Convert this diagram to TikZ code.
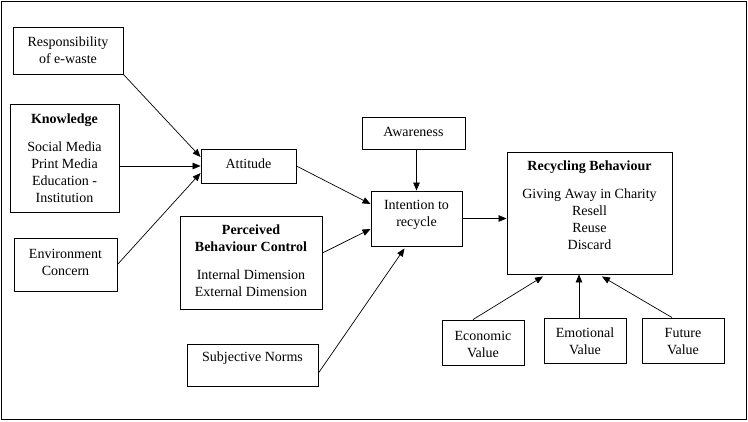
\documentclass[tikz,border=0pt]{standalone}
\usepackage{fontspec}
\setmainfont{Liberation Serif}
\usetikzlibrary{arrows.meta}
\begin{document}
\begin{tikzpicture}[x=1pt,y=-1pt,
  box/.style={draw, line width=0.9pt, rectangle, inner sep=0pt},
  txt/.style={align=center, inner sep=0pt, font=\fontsize{14}{17}\selectfont},
  arr/.style={draw, line width=0.7pt, -{Triangle[length=8pt,width=6.5pt]}}]
\useasboundingbox (0,0) rectangle (748,421);
\draw[line width=1pt] (1,1) rectangle (746,419);
% boxes
\node[box, minimum width=110pt, minimum height=47pt] (resp) at (68,50.5) {};
\node[box, minimum width=109pt, minimum height=108pt] (know) at (64.5,158) {};
\node[box, minimum width=95pt, minimum height=34pt] (att) at (248.5,166) {};
\node[box, minimum width=103pt, minimum height=53pt] (env) at (65.5,264.5) {};
\node[box, minimum width=142pt, minimum height=93pt] (pbc) at (251,262.5) {};
\node[box, minimum width=131pt, minimum height=42pt] (subj) at (252.5,365) {};
\node[box, minimum width=103pt, minimum height=32pt] (aware) at (413.5,133) {};
\node[box, minimum width=91pt, minimum height=55pt] (intent) at (416.5,218.5) {};
\node[box, minimum width=165pt, minimum height=122pt] (rb) at (589.5,213) {};
\node[box, minimum width=82pt, minimum height=45pt] (econ) at (483,342.5) {};
\node[box, minimum width=82pt, minimum height=45pt] (emo) at (585,340.5) {};
\node[box, minimum width=82pt, minimum height=45pt] (fut) at (683,340.5) {};
% texts
\node[txt] (respt) at (68,50) {Responsibility\\of e-waste};
\node[txt] (knowt) at (64.5,158) {\textbf{Knowledge}\\[11pt]Social Media\\Print Media\\Education -\\Institution};
\node[txt] (attt) at (248.5,164) {Attitude};
\node[txt] (envt) at (65.5,262) {Environment\\Concern};
\node[txt] (pbct) at (251,261) {\textbf{Perceived}\\\textbf{Behaviour Control}\\[11pt]Internal Dimension\\External Dimension};
\node[txt] (subjt) at (252.5,358) {Subjective Norms};
\node[txt] (awaret) at (413.5,132) {Awareness};
\node[txt] (intentt) at (416.5,214.5) {Intention to\\recycle};
\node[txt] (rbt) at (589.5,205) {\textbf{Recycling Behaviour}\\[11pt]Giving Away in Charity\\Resell\\Reuse\\Discard};
\node[txt] (econt) at (483,344) {Economic\\Value};
\node[txt] (emot) at (585,341) {Emotional\\Value};
\node[txt] (futt) at (683,342) {Future\\Value};
% connectors
\draw[arr] (resp.south east) -- ([yshift=9pt]att.west);
\draw[arr] (know.east |- att.west) -- (att.west);
\draw[arr] (env.east) -- ([yshift=-7pt]att.west);
\draw[arr] (att.east) -- ([yshift=14.5pt]intent.west);
\draw[arr] ([yshift=9.5pt]pbc.east) -- ([yshift=-10.5pt]intent.west);
\draw[arr] ([yshift=-8pt]subj.east) -- ([xshift=-12pt,yshift=-2pt]intent.south);
\draw[arr] (intent.north |- aware.south) -- (intent.north);
\draw[arr] (intent.east) -- (rb.west |- intent.east);
\draw[arr] ([xshift=-10pt]econ.north) -- ([xshift=-46.5pt,yshift=-2pt]rb.south);
\draw[arr] ([xshift=-6pt]emo.north) -- ([xshift=-10.5pt]rb.south);
\draw[arr] ([xshift=-11pt]fut.north) -- ([xshift=12.5pt,yshift=-2pt]rb.south);
\end{tikzpicture}
\end{document}
